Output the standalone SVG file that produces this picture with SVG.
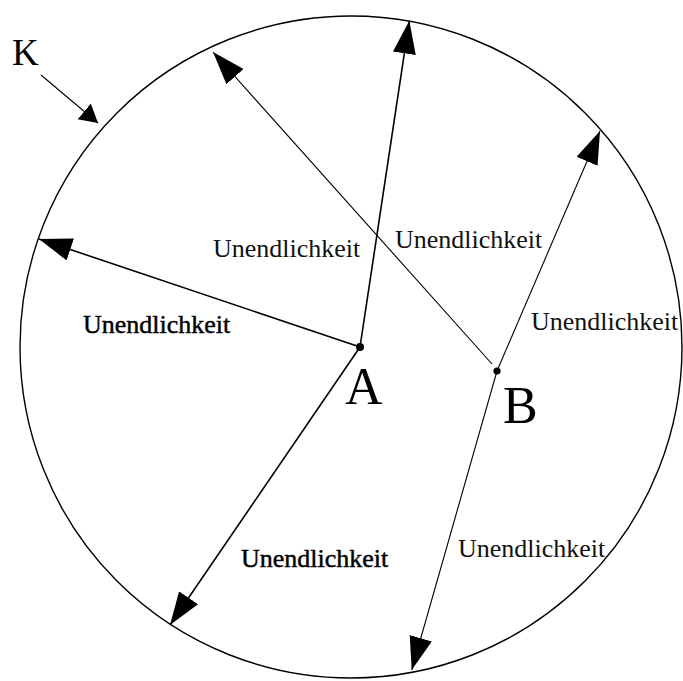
<svg xmlns="http://www.w3.org/2000/svg" width="683" height="681" viewBox="0 0 683 681">
<style>
.bg{fill:#fff}
.circ{fill:none;stroke:#000;stroke-width:1.4}
.la{stroke:#000;stroke-width:1.6;fill:none}
.lb{stroke:#000;stroke-width:1.1;fill:none}
.lbl{font-family:"Liberation Serif","Times New Roman",serif;font-size:26px;fill:#111}
.dark{fill:#000;stroke:#000;stroke-width:0.45}
.big{font-family:"Liberation Serif","Times New Roman",serif;fill:#000}
</style>
<defs>
<marker id="ah" markerUnits="userSpaceOnUse" markerWidth="34" markerHeight="24" refX="33" refY="11.5" orient="auto">
<path d="M0,0 L33,11.5 L0,23 z" fill="#000"/>
</marker>
<marker id="ahk" markerUnits="userSpaceOnUse" markerWidth="20" markerHeight="22" refX="18" refY="10.25" orient="auto">
<path d="M0,0 L18,10.25 L0,20.5 z" fill="#000"/>
</marker>
</defs>
<rect class="bg" x="0" y="0" width="683" height="681"/>
<g id="circleK">
<circle class="circ" cx="351" cy="347" r="331"/>
</g>
<g id="connectors">
<line class="lb" x1="41" y1="75" x2="98" y2="123" marker-end="url(#ahk)"/>
<line class="la" x1="360" y1="347" x2="409.3" y2="20.7" marker-end="url(#ah)"/>
<line class="la" x1="360" y1="347" x2="39" y2="239" marker-end="url(#ah)"/>
<line class="la" x1="360" y1="347" x2="170" y2="625" marker-end="url(#ah)"/>
<line class="lb" x1="492" y1="364" x2="213" y2="52" marker-end="url(#ah)"/>
<line class="lb" x1="497" y1="371" x2="600" y2="131" marker-end="url(#ah)"/>
<line class="lb" x1="497" y1="371" x2="411.7" y2="670" marker-end="url(#ah)"/>
</g>
<g id="nodeA">
<circle cx="360" cy="347" r="4" fill="#000"/>
<text class="big" x="345" y="404" font-size="52">A</text>
</g>
<g id="nodeB">
<circle cx="497" cy="371" r="3.6" fill="#000"/>
<text class="big" x="503" y="423" font-size="52">B</text>
</g>
<g id="labelK">
<text class="big" x="12" y="65" font-size="37">K</text>
</g>
<g id="labels">
<text class="lbl" x="213" y="257">Unendlichkeit</text>
<text class="lbl" x="395" y="248">Unendlichkeit</text>
<text class="lbl" x="531" y="330">Unendlichkeit</text>
<text class="lbl dark" x="83" y="333">Unendlichkeit</text>
<text class="lbl dark" x="241" y="567">Unendlichkeit</text>
<text class="lbl" x="458" y="557">Unendlichkeit</text>
</g>
</svg>
